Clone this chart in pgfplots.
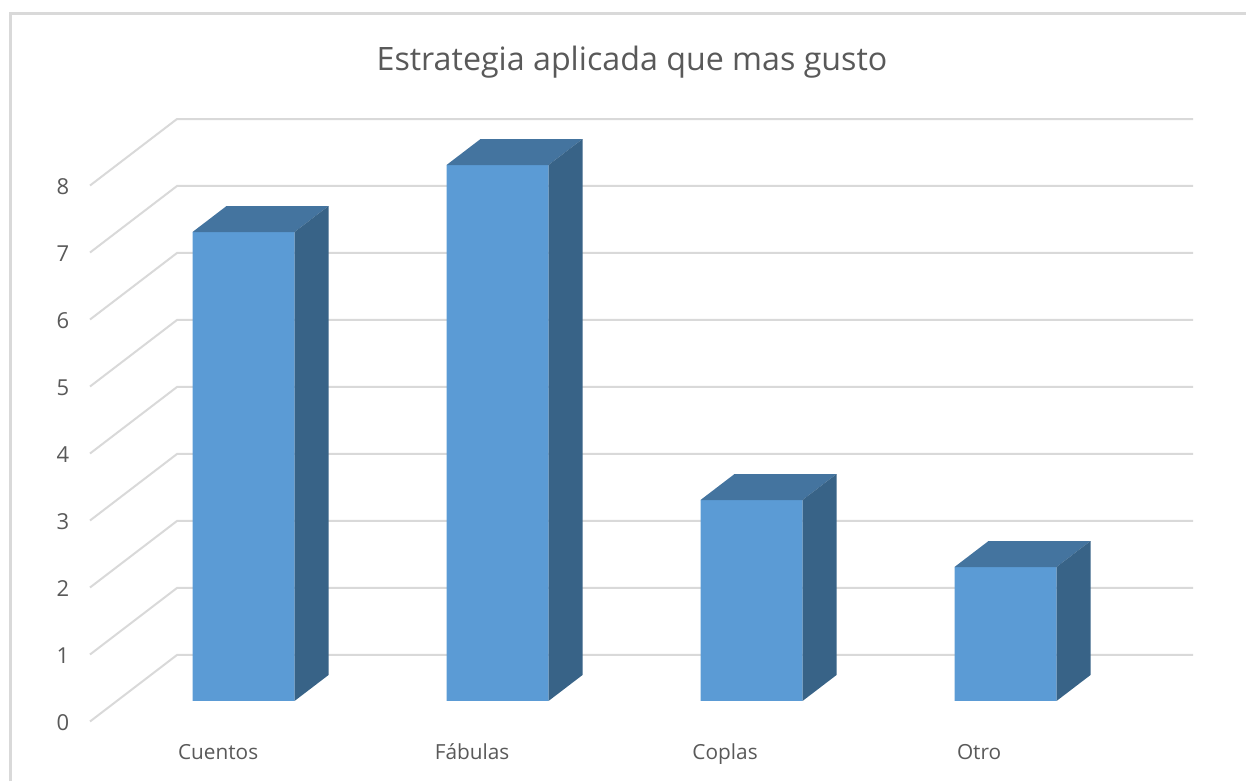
\documentclass[border=0pt]{standalone}
\usepackage{fontspec}
\setmainfont{Open Sans}
\usepackage{pgfplots}
\pgfplotsset{compat=1.18}
\definecolor{gridgray}{HTML}{D9D9D9}
\definecolor{txtgray}{HTML}{595959}
\definecolor{barfront}{HTML}{5B9BD5}
\definecolor{bartop}{HTML}{44749F}
\definecolor{barside}{HTML}{386387}
\pgfplotsset{wall/.style={gridgray,line width=1pt,line join=miter}}
\begin{document}
\begin{tikzpicture}
\path[use as bounding box] (0,0) rectangle (623pt,390.5pt);
% chart frame, open at right and bottom
\draw[gridgray,line width=1.2pt] (5.25pt,0) -- (5.25pt,383.75pt) -- (623pt,383.75pt);
% floor and wall lines, tick labels and title
\begin{axis}[%
	at={(45pt,29.75pt)},anchor=south west,%
	scale only axis,width=551.5pt,height=301.25pt,%
	xmin=-0.6063,xmax=3.7362,ymin=0,ymax=8.993,%
	clip=false,%
	axis line style={draw=none},%
	major tick length=0pt,%
	ytick={0,1,...,8},%
	xtick={-0.102,0.898,1.894,2.894},%
	xticklabels={Cuentos,Fábulas,Coplas,Otro},%
	/pgf/number format/assume math mode=true,%
	yticklabel style={font=\fontsize{11}{13}\selectfont,text=txtgray,anchor=center,xshift=-13.5pt,yshift=-0.5pt},%
	xticklabel style={font=\fontsize{10.4}{13}\selectfont,text=txtgray,anchor=base,yshift=-19pt},%
	title={Estrategia aplicada que mas gusto},%
	title style={at={(0.4914,1.0747)},anchor=center,font=\fontsize{16.1}{20}\selectfont,text=txtgray},%
	]
\addplot[wall] coordinates {(-0.6063,0)(-0.2638,0.993)(3.7362,0.993)};
\addplot[wall] coordinates {(-0.6063,1)(-0.2638,1.993)(3.7362,1.993)};
\addplot[wall] coordinates {(-0.6063,2)(-0.2638,2.993)(3.7362,2.993)};
\addplot[wall] coordinates {(-0.6063,3)(-0.2638,3.993)(3.7362,3.993)};
\addplot[wall] coordinates {(-0.6063,4)(-0.2638,4.993)(3.7362,4.993)};
\addplot[wall] coordinates {(-0.6063,5)(-0.2638,5.993)(3.7362,5.993)};
\addplot[wall] coordinates {(-0.6063,6)(-0.2638,6.993)(3.7362,6.993)};
\addplot[wall] coordinates {(-0.6063,7)(-0.2638,7.993)(3.7362,7.993)};
\addplot[wall] coordinates {(-0.6063,8)(-0.2638,8.993)(3.7362,8.993)};
\end{axis}
% the bars: front face at the value, top and side faces offset in depth
\begin{axis}[%
	at={(44.75pt,40pt)},anchor=south west,%
	scale only axis,width=551.5pt,height=291pt,%
	xmin=-0.6063,xmax=3.7362,ymin=0,ymax=8.687,%
	clip=false,%
	hide axis,%
	]
\addplot[ybar,bar width=0.4016,fill=barfront,draw=none] coordinates {(0,7)(1,8)(2,3)(3,2)};
% Cuentos
\addplot[fill=bartop,draw=none] coordinates {(-0.2008,7)(0.2008,7)(0.3347,7.388)(-0.0669,7.388)} --cycle;
\addplot[fill=barside,draw=none] coordinates {(0.2008,0)(0.3347,0.388)(0.3347,7.388)(0.2008,7)} --cycle;
% Fabulas
\addplot[fill=bartop,draw=none] coordinates {(0.7992,8)(1.2008,8)(1.3347,8.388)(0.9331,8.388)} --cycle;
\addplot[fill=barside,draw=none] coordinates {(1.2008,0)(1.3347,0.388)(1.3347,8.388)(1.2008,8)} --cycle;
% Coplas
\addplot[fill=bartop,draw=none] coordinates {(1.7992,3)(2.2008,3)(2.3347,3.388)(1.9331,3.388)} --cycle;
\addplot[fill=barside,draw=none] coordinates {(2.2008,0)(2.3347,0.388)(2.3347,3.388)(2.2008,3)} --cycle;
% Otro
\addplot[fill=bartop,draw=none] coordinates {(2.7992,2)(3.2008,2)(3.3347,2.388)(2.9331,2.388)} --cycle;
\addplot[fill=barside,draw=none] coordinates {(3.2008,0)(3.3347,0.388)(3.3347,2.388)(3.2008,2)} --cycle;
\end{axis}
\end{tikzpicture}
\end{document}
